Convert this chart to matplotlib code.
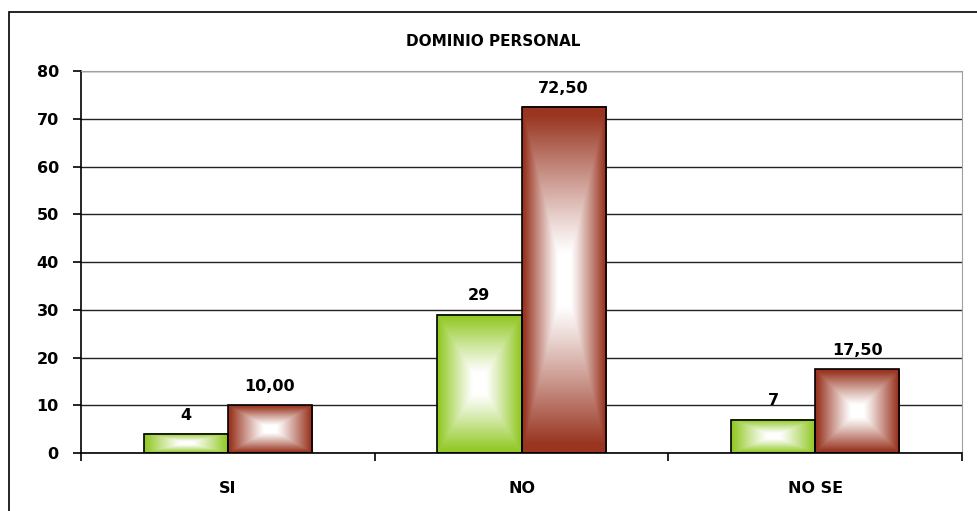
import numpy as np
import matplotlib.pyplot as plt
from matplotlib.colors import LinearSegmentedColormap
from matplotlib.patches import Rectangle

# Datos
categorias = ['SI', 'NO', 'NO SE']
frecuencia = [4, 29, 7]
porcentaje = [10.00, 72.50, 17.50]
etiq_frec = ['4', '29', '7']
etiq_porc = ['10,00', '72,50', '17,50']

verde = (0.58, 0.79, 0.16)
marron = (0.60, 0.21, 0.13)

fig = plt.figure(figsize=(9.77, 5.11), dpi=100)
ax = fig.add_axes([81/977, 58/511, 881/977, 382/511])

# marco del grafico
fig.patches.append(Rectangle((9/977, -0.1), 1.1, (511-12)/511 + 0.1, transform=fig.transFigure,
                             fill=False, edgecolor='black', linewidth=1.2))

x = np.arange(len(categorias))
ancho = 0.287

def relleno_degradado(ax, bar, color):
    # degradado rectangular desde el centro (blanco) hacia los bordes
    n = 200
    u = np.linspace(-1, 1, n)
    U, V = np.meshgrid(u, u)
    t = np.maximum(np.abs(U), np.abs(V))
    s = np.clip((t - 0.15) / 0.8, 0, 1) ** 1.1
    cmap = LinearSegmentedColormap.from_list('g', ['white', color])
    x0, y0 = bar.get_x(), bar.get_y()
    w, h = bar.get_width(), bar.get_height()
    ax.imshow(s, cmap=cmap, extent=(x0, x0 + w, y0, y0 + h), aspect='auto',
              vmin=0, vmax=1, zorder=2, interpolation='bilinear')

barras1 = ax.bar(x - ancho/2, frecuencia, ancho, facecolor='none', edgecolor='black', linewidth=1.2, zorder=3)
barras2 = ax.bar(x + ancho/2, porcentaje, ancho, facecolor='none', edgecolor='black', linewidth=1.2, zorder=3)
for b in barras1:
    relleno_degradado(ax, b, verde)
for b in barras2:
    relleno_degradado(ax, b, marron)

for b, txt in zip(barras1, etiq_frec):
    ax.annotate(txt, (b.get_x() + b.get_width()/2, b.get_height()), xytext=(0, 8),
                textcoords='offset points', ha='center', va='bottom', fontsize=11.5, fontweight='bold')
for b, txt in zip(barras2, etiq_porc):
    ax.annotate(txt, (b.get_x() + b.get_width()/2, b.get_height()), xytext=(0, 8),
                textcoords='offset points', ha='center', va='bottom', fontsize=11.5, fontweight='bold')

ax.set_xlim(-0.5, 2.5)
ax.set_ylim(0, 80)
ax.set_yticks(range(0, 81, 10))
ax.yaxis.grid(True, color='#222222', linewidth=1)
ax.set_axisbelow(True)

ax.set_xticks(x)
ax.set_xticklabels(categorias, fontsize=11.5, fontweight='bold')
ax.tick_params(axis='x', length=0, pad=20)
ax.set_xticks([-0.5, 0.5, 1.5, 2.5], minor=True)
ax.tick_params(axis='x', which='minor', length=6, width=1.2, direction='out')
ax.tick_params(axis='y', length=6, width=1.2, direction='out', pad=10, labelsize=11.5)
for lab in ax.get_yticklabels():
    lab.set_fontweight('bold')

ax.spines['left'].set_linewidth(1.2)
ax.spines['bottom'].set_linewidth(1.2)
ax.spines['top'].set_color('#a0a0a0')
ax.spines['right'].set_color('#a0a0a0')

fig.text(493/977, 1 - 42/511, 'DOMINIO PERSONAL', ha='center', va='center', fontsize=11, fontweight='bold')

fig.savefig('out.png', dpi=100)
